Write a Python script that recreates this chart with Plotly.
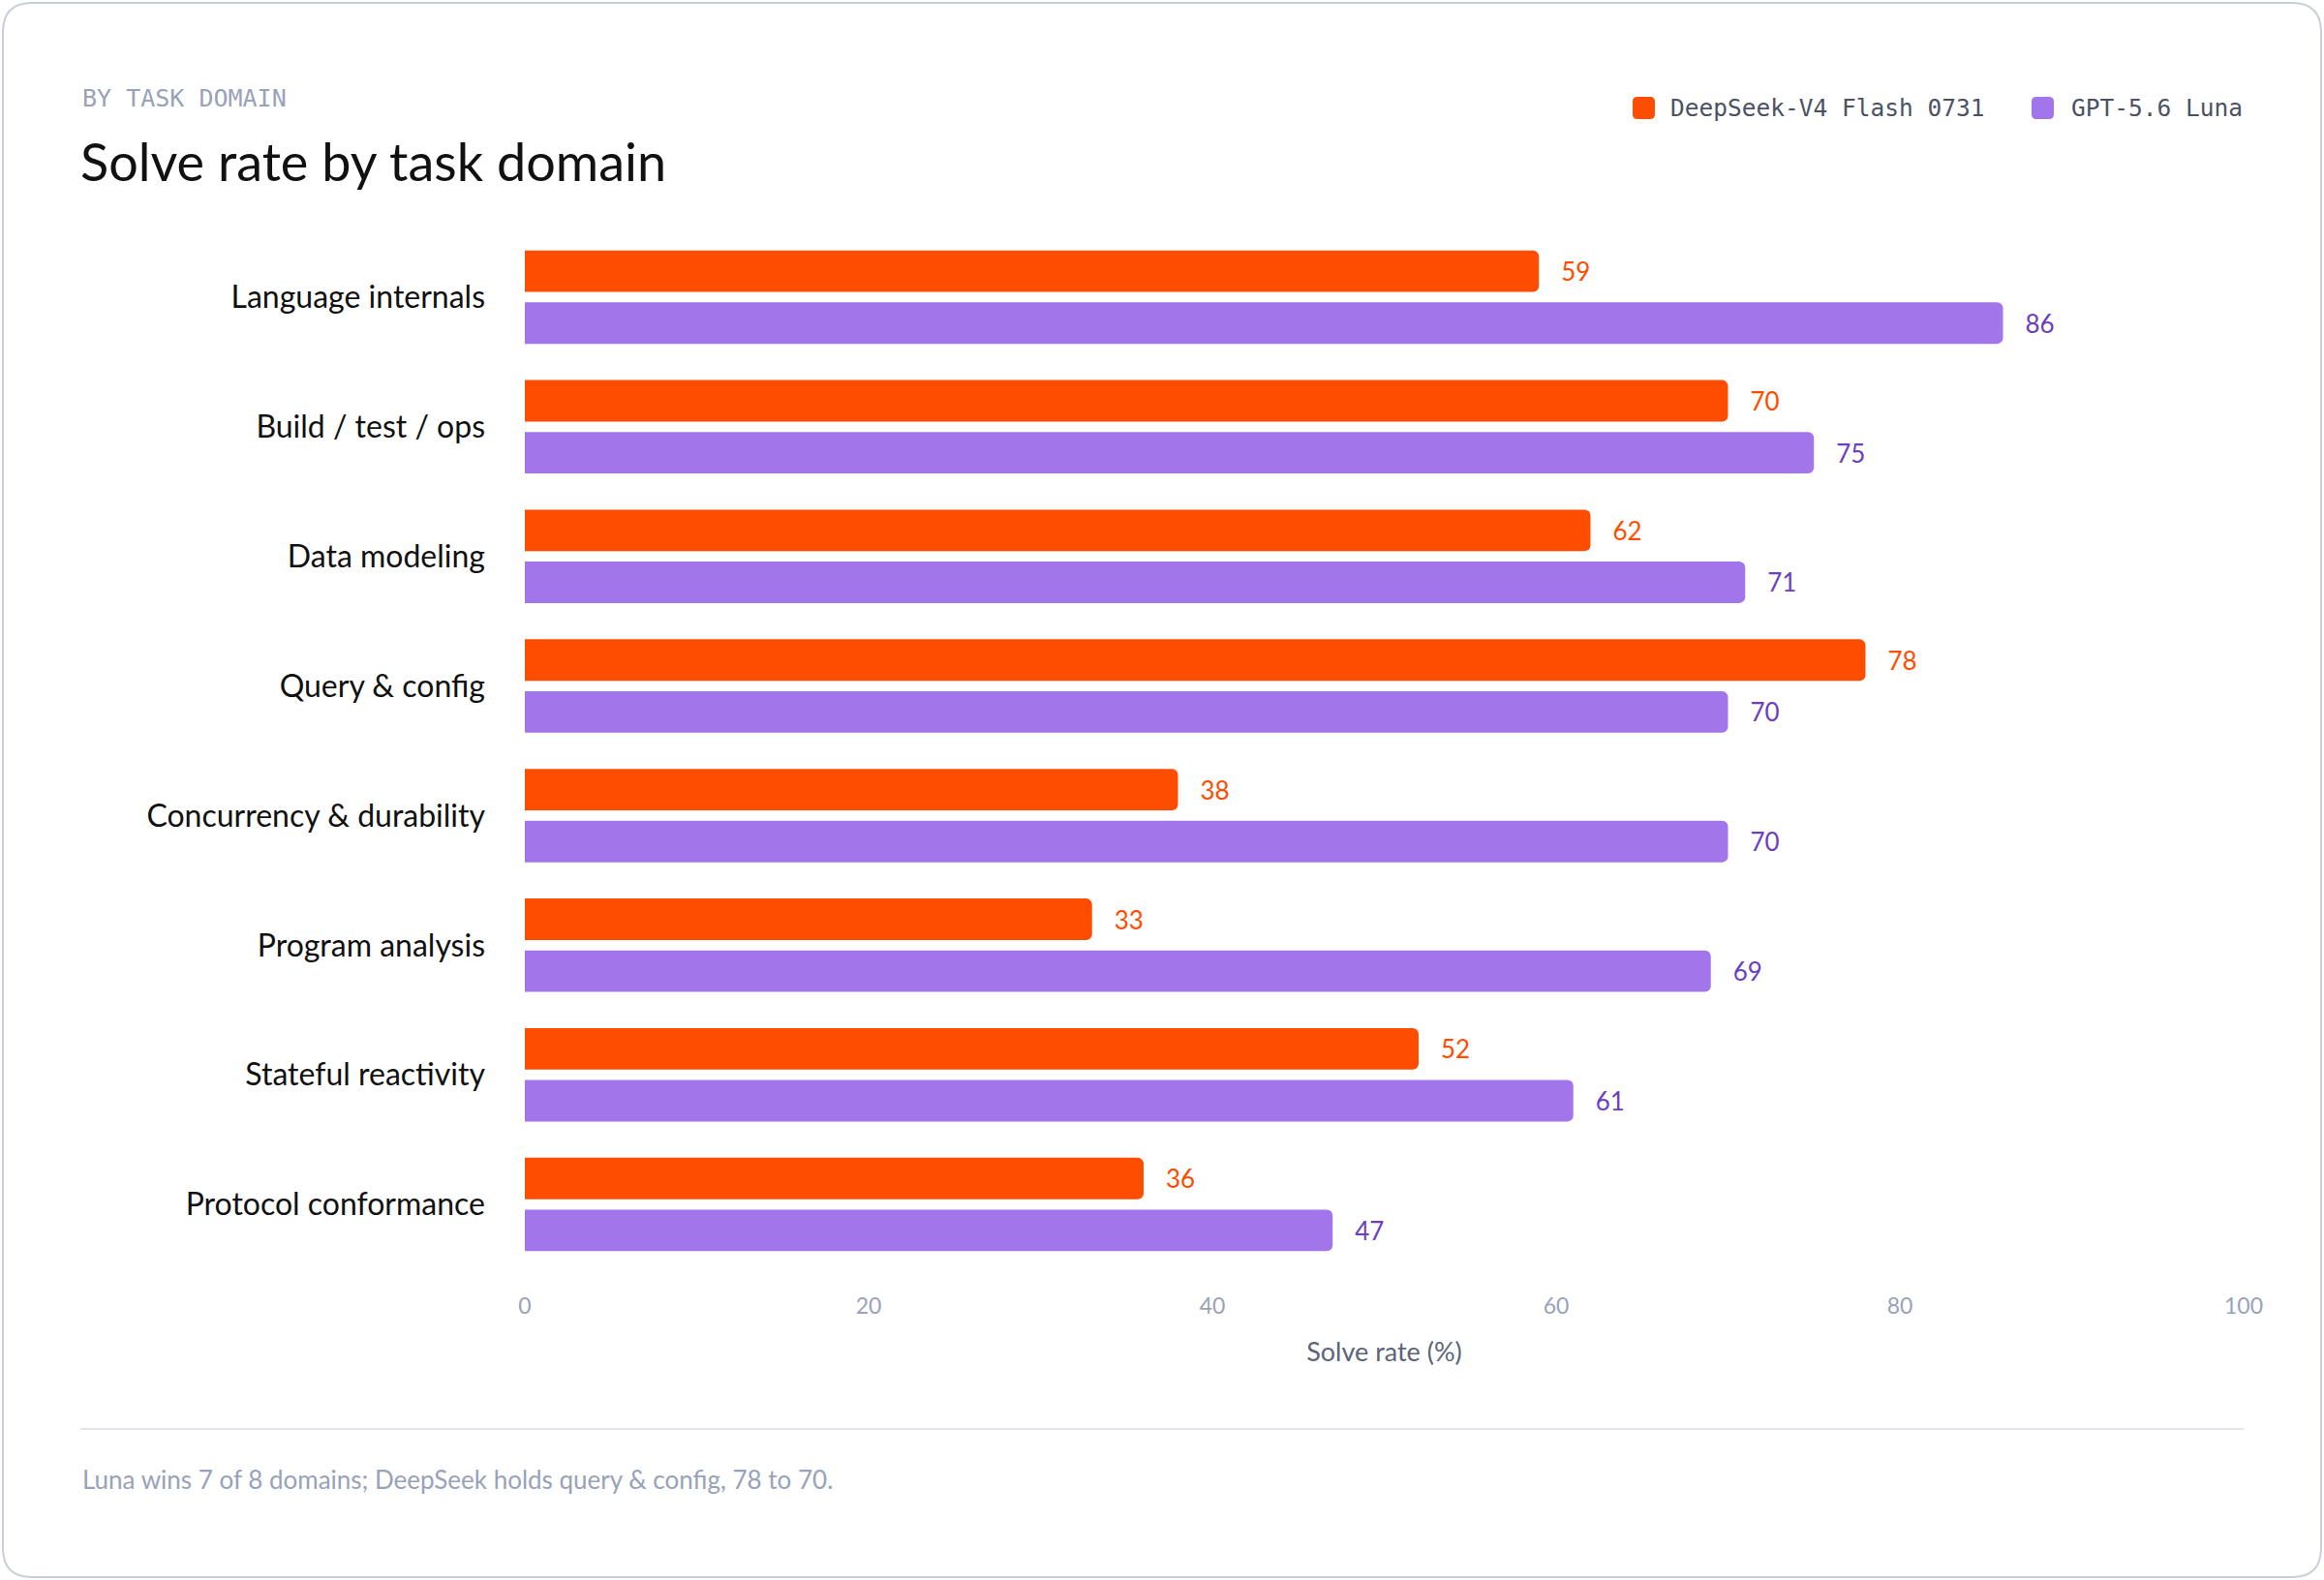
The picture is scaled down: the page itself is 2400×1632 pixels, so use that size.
import plotly.graph_objects as go

# data
domains = ["Language internals", "Build / test / ops", "Data modeling", "Query & config",
           "Concurrency & durability", "Program analysis", "Stateful reactivity",
           "Protocol conformance"]
deepseek = [59, 70, 62, 78, 38, 33, 52, 36]
luna = [86, 75, 71, 70, 70, 69, 61, 47]
x_ticks = [0, 20, 40, 60, 80, 100]

series_names = ["DeepSeek-V4 Flash 0731", "GPT-5.6 Luna"]
bar_colors = ["#FF4D00", "#A275EB"]
label_colors = ["#FF4D00", "#6B3FC0"]

W, H = 2400, 1632
L, R, T, B = 542, 83, 240, 321
pw, ph = W - L - R, H - T - B

def px(x):
    return (x - L) / pw

def py(y):
    return (H - B - y) / ph

SANS = "Lato, 'Noto Sans', sans-serif"
MONO = "'DejaVu Sans Mono', monospace"

fig = go.Figure()
for name, vals, col, lcol in zip(series_names, [deepseek, luna], bar_colors, label_colors):
    fig.add_trace(go.Bar(
        y=domains, x=vals, name=name, orientation="h",
        marker=dict(color=col, cornerradius=6, line=dict(width=0)),
        text=vals, texttemplate="\u00a0\u00a0\u00a0%{x}", textposition="outside",
        textfont=dict(family=SANS, size=26, color=lcol),
        constraintext="none", cliponaxis=False, showlegend=False,
    ))

fig.update_layout(
    width=W, height=H,
    margin=dict(l=L, r=R, t=T, b=B),
    paper_bgcolor="white", plot_bgcolor="white",
    barmode="group", bargap=0.2, bargroupgap=0.2,
    font=dict(family=SANS),
    xaxis=dict(range=[0, 100], tickvals=x_ticks, showgrid=False, zeroline=False,
               showline=False, ticks="", ticklabelstandoff=22,
               tickfont=dict(family=SANS, size=23, color="#98A2B8"),
               title=dict(text="Solve rate (%)", standoff=26,
                          font=dict(family=SANS, size=27, color="#5B6478"))),
    yaxis=dict(autorange="reversed", showgrid=False, zeroline=False, showline=False,
               ticks="", ticklabelstandoff=40,
               tickfont=dict(family=SANS, size=32, color="#111111")),
)

ann = []
ann.append(dict(text="BY TASK DOMAIN", x=px(83), y=py(101), xanchor="left", yanchor="middle",
                font=dict(family=MONO, size=25, color="#98A2B8")))
ann.append(dict(text="Solve rate by task domain", x=px(81), y=py(166), xanchor="left",
                yanchor="middle", font=dict(family=SANS, size=54, color="#111111")))
ann.append(dict(text="Luna wins 7 of 8 domains; DeepSeek holds query & config, 78 to 70.",
                x=px(83), y=py(1528), xanchor="left", yanchor="middle",
                font=dict(family=SANS, size=26, color="#98A2B8")))
# legend
ann.append(dict(text=series_names[0], x=px(1723), y=py(112), xanchor="left", yanchor="middle",
                font=dict(family=MONO, size=24.5, color="#4A5263")))
ann.append(dict(text=series_names[1], x=px(2318), y=py(112), xanchor="right", yanchor="middle",
                font=dict(family=MONO, size=24.5, color="#4A5263")))
for a in ann:
    a.update(xref="paper", yref="paper", showarrow=False)
fig.update_layout(annotations=ann)

def rounded(x0, y0, x1, y1, r):
    # rounded rectangle path in paper coords, from pixel corners
    pts = (f"M {px(x0 + r)},{py(y0)} L {px(x1 - r)},{py(y0)} Q {px(x1)},{py(y0)} {px(x1)},{py(y0 + r)} "
           f"L {px(x1)},{py(y1 - r)} Q {px(x1)},{py(y1)} {px(x1 - r)},{py(y1)} "
           f"L {px(x0 + r)},{py(y1)} Q {px(x0)},{py(y1)} {px(x0)},{py(y1 - r)} "
           f"L {px(x0)},{py(y0 + r)} Q {px(x0)},{py(y0)} {px(x0 + r)},{py(y0)} Z")
    return pts

shapes = [
    dict(type="path", path=rounded(3, 3, 2397, 1629, 30), line=dict(color="#C9CED9", width=2),
         layer="below"),
    dict(type="line", x0=px(83), x1=px(2317), y0=py(1476), y1=py(1476),
         line=dict(color="#E2E4EA", width=2)),
    dict(type="path", path=rounded(1686, 100, 1709, 123, 5), fillcolor=bar_colors[0],
         line=dict(width=0)),
    dict(type="path", path=rounded(2098, 100, 2121, 123, 5), fillcolor=bar_colors[1],
         line=dict(width=0)),
]
for s in shapes:
    s.update(xref="paper", yref="paper")
fig.update_layout(shapes=shapes)

fig.write_html("out.html", config={"displayModeBar": False},
               post_script="document.body.style.margin='0';")
